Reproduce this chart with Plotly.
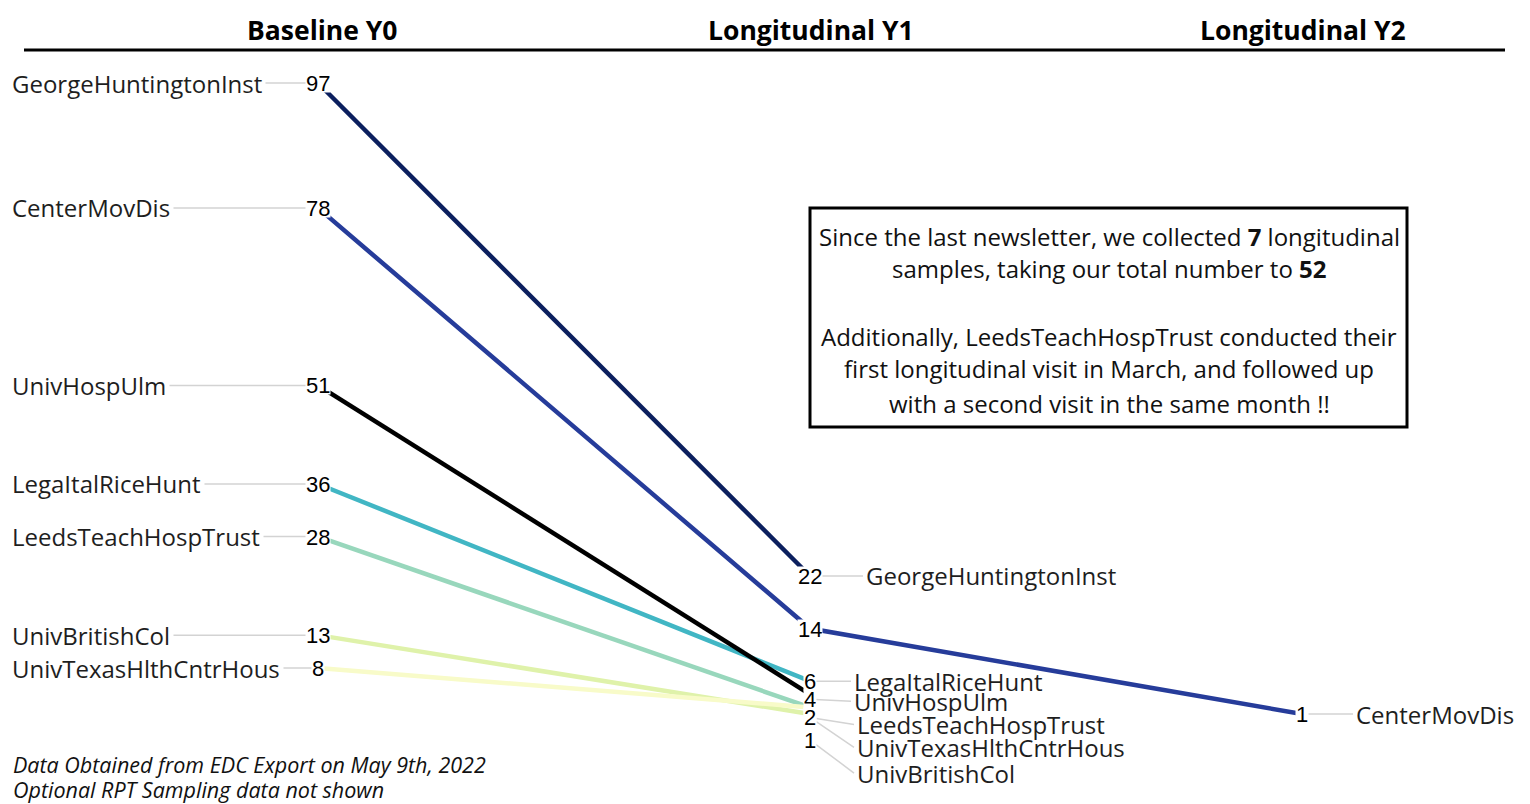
import plotly.graph_objects as go

# ---------------- data ----------------
timepoints = ["Baseline Y0", "Longitudinal Y1", "Longitudinal Y2"]
sites = ["CenterMovDis", "GeorgeHuntingtonInst", "LeedsTeachHospTrust",
         "LegaItalRiceHunt", "UnivBritishCol", "UnivHospUlm", "UnivTexasHlthCntrHous"]
baseline_y0 = [78, 97, 28, 36, 13, 51, 8]
longitudinal_y1 = [14, 22, 2, 6, 1, 4, 2]
longitudinal_y2 = [1, None, None, None, None, None, None]

box_lines = ["Since the last newsletter, we collected <b>7</b> longitudinal",
             "samples, taking our total number to <b>52</b>",
             "Additionally, LeedsTeachHospTrust conducted their",
             "first longitudinal visit in March, and followed up",
             "with a second visit in the same month !!"]
footer_lines = ["Data Obtained from EDC Export on May 9th, 2022",
                "Optional RPT Sampling data not shown"]

# ---------------- styles / layout ----------------
line_colors = ["#263c9a", "#0b1f5e", "#98d7bc", "#41b6c4", "#dff2aa", "#000000", "#f8fbc9"]
# pixel nudges of repelled value labels at Y1
value_nudge_y1 = {"CenterMovDis": 0, "GeorgeHuntingtonInst": 0, "LeedsTeachHospTrust": -10,
                  "LegaItalRiceHunt": 0, "UnivBritishCol": -26, "UnivHospUlm": -5,
                  "UnivTexasHlthCntrHous": -10}
# pixel offsets (dx, dy) of name labels from their value label at Y1
name_offset_y1 = {"GeorgeHuntingtonInst": (53, 0), "LegaItalRiceHunt": (41, 0),
                  "UnivHospUlm": (41, 2), "LeedsTeachHospTrust": (44, 7),
                  "UnivTexasHlthCntrHous": (44, 30), "UnivBritishCol": (44, 33)}
header_xshift = [4, 1, 1]
box_line_px = [236, 269, 336, 369, 403]
footer_px = [764, 789]

W, H = 1530, 804
NAME_FONT = dict(family="Open Sans", size=24, color="#1e1e1e")
VAL_FONT = dict(family="Liberation Sans", size=22, color="#000000")
LEADER = dict(showarrow=True, arrowhead=0, arrowwidth=1.5, arrowcolor="#d3d3d3", standoff=0)

fig = go.Figure()
xs = [1, 2, 3]
for i, s in enumerate(sites):
    vals = [baseline_y0[i], longitudinal_y1[i], longitudinal_y2[i]]
    px = [x for x, v in zip(xs, vals) if v is not None]
    pv = [v for v in vals if v is not None]
    fig.add_trace(go.Scatter(x=px, y=pv, mode="lines",
                             line=dict(color=line_colors[i], width=4.5),
                             hoverinfo="skip", showlegend=False))

ann = []
# left names with leader lines
for i, s in enumerate(sites):
    ann.append(dict(x=1, y=baseline_y0[i], text=s, font=NAME_FONT, xanchor="left",
                    yanchor="middle", ax=8 - 318, ay=0, borderpad=3, **LEADER))
# Y1 names
for i, s in enumerate(sites):
    if s in name_offset_y1:
        ax, ay = name_offset_y1[s]
        ann.append(dict(x=2, y=longitudinal_y1[i], yshift=value_nudge_y1[s], text=s,
                        font=NAME_FONT, xanchor="left", yanchor="middle",
                        ax=ax, ay=ay, borderpad=2, **LEADER))
# Y2 names
for i, s in enumerate(sites):
    if longitudinal_y2[i] is not None:
        ann.append(dict(x=3, y=longitudinal_y2[i], text=s, font=NAME_FONT, xanchor="left",
                        yanchor="middle", ax=51, ay=0, borderpad=2, **LEADER))

VAL_BOX = dict(showarrow=False, bgcolor="white", borderpad=0, height=18, valign="middle")
# value labels (white background hides line ends)
for i, s in enumerate(sites):
    ann.append(dict(x=1, y=baseline_y0[i], text=str(baseline_y0[i]), font=VAL_FONT, **VAL_BOX))
order_y1 = sorted(range(len(sites)), key=lambda k: longitudinal_y1[k])
for i in order_y1:
    s = sites[i]
    ann.append(dict(x=2, y=longitudinal_y1[i], yshift=value_nudge_y1[s],
                    text=str(longitudinal_y1[i]), font=VAL_FONT, **VAL_BOX))
for i, s in enumerate(sites):
    if longitudinal_y2[i] is not None:
        ann.append(dict(x=3, y=longitudinal_y2[i], text=str(longitudinal_y2[i]),
                        font=VAL_FONT, **VAL_BOX))

# headers
for j, t in enumerate(timepoints):
    ann.append(dict(x=xs[j], y=1 - 30 / H, yref="paper", text=f"<b>{t}</b>",
                    xshift=header_xshift[j],
                    font=dict(family="Open Sans", size=26.5, color="#000000"),
                    showarrow=False, yanchor="middle"))

# text box lines
for t, ypx in zip(box_lines, box_line_px):
    ann.append(dict(x=1109 / W, y=1 - ypx / H, xref="paper", yref="paper", text=t,
                    font=dict(family="Open Sans", size=24, color="#111111"),
                    showarrow=False, xanchor="center", yanchor="middle"))

# footer
for t, ypx in zip(footer_lines, footer_px):
    ann.append(dict(x=11 / W, y=1 - ypx / H, xref="paper", yref="paper",
                    text=f"<i>{t}</i>",
                    font=dict(family="Open Sans", size=21.5, color="#111111"),
                    showarrow=False, xanchor="left", yanchor="middle"))

shapes = [
    dict(type="line", xref="paper", yref="paper", x0=24 / W, x1=1505 / W,
         y0=1 - 50 / H, y1=1 - 50 / H, line=dict(color="black", width=3)),
    dict(type="rect", xref="paper", yref="paper", x0=810 / W, x1=1407 / W,
         y0=1 - 427 / H, y1=1 - 208 / H, line=dict(color="black", width=3)),
]

px_per_unit = 6.573
zero_px = 720.6
fig.update_layout(
    width=W, height=H, margin=dict(l=0, r=0, t=0, b=0),
    paper_bgcolor="white", plot_bgcolor="white",
    xaxis=dict(range=[1 - 318 / 492, 1 + (W - 318) / 492], visible=False, fixedrange=True),
    yaxis=dict(range=[-(H - zero_px) / px_per_unit, zero_px / px_per_unit],
               visible=False, fixedrange=True),
    annotations=ann, shapes=shapes, showlegend=False,
)
fig.write_html("out.html", config={"displayModeBar": False},
               post_script="document.body.style.margin='0px';document.body.style.overflow='hidden';")
